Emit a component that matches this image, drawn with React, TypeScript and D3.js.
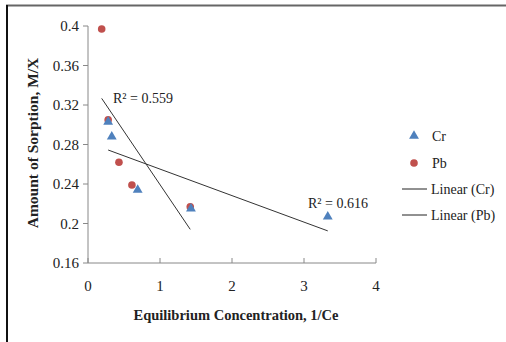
import React, { useEffect, useRef } from 'react';
import * as d3 from 'd3';

// Cr series (triangles)
const crX = [0.28, 0.33, 0.69, 1.43, 3.33];
const crY = [0.303, 0.288, 0.234, 0.215, 0.207];

// Pb series (circles)
const pbX = [0.19, 0.28, 0.43, 0.61, 1.42];
const pbY = [0.397, 0.305, 0.262, 0.239, 0.217];

const xTicks = [0, 1, 2, 3, 4];
const yTicks = [0.16, 0.2, 0.24, 0.28, 0.32, 0.36, 0.4];

const crR2 = 'R² = 0.616';
const pbR2 = 'R² = 0.559';

const FONT = '"Liberation Serif", "Times New Roman", serif';

const fit = (xs: number[], ys: number[]) => {
  const mx = d3.mean(xs)!;
  const my = d3.mean(ys)!;
  let sxy = 0;
  let sxx = 0;
  xs.forEach((x, i) => {
    sxy += (x - mx) * (ys[i] - my);
    sxx += (x - mx) * (x - mx);
  });
  const slope = sxy / sxx;
  return { slope, intercept: my - slope * mx };
};

export default function App() {
  const svgRef = useRef<SVGSVGElement>(null);

  useEffect(() => {
    if (!svgRef.current) return;
    const width = 506;
    const height = 342;

    d3.select(svgRef.current).selectAll('*').remove();
    const svg = d3.select(svgRef.current).attr('width', width).attr('height', height);

    // chart frame (top + left edges visible)
    svg.append('line').attr('x1', 6).attr('x2', 506).attr('y1', 5.5).attr('y2', 5.5)
      .attr('stroke', '#666').attr('stroke-width', 2);
    svg.append('line').attr('x1', 7).attr('x2', 7).attr('y1', 5).attr('y2', 342)
      .attr('stroke', '#111').attr('stroke-width', 2);

    const x = d3.scaleLinear().domain([0, 4]).range([88, 376]);
    const y = d3.scaleLinear().domain([0.16, 0.4]).range([263, 26]);

    // axes
    svg.append('line').attr('x1', x(0)).attr('x2', x(4)).attr('y1', y(0.16)).attr('y2', y(0.16))
      .attr('stroke', '#888');
    svg.append('line').attr('x1', x(0)).attr('x2', x(0)).attr('y1', y(0.16)).attr('y2', y(0.4))
      .attr('stroke', '#888');

    svg.selectAll('.xt').data(xTicks).enter().append('line')
      .attr('x1', d => x(d)).attr('x2', d => x(d))
      .attr('y1', y(0.16)).attr('y2', y(0.16) - 5).attr('stroke', '#888');
    svg.selectAll('.xl').data(xTicks).enter().append('text')
      .attr('x', d => x(d)).attr('y', 291).attr('text-anchor', 'middle')
      .style('font-family', FONT).style('font-size', '15px').attr('fill', '#222')
      .text(d => d);

    svg.selectAll('.yt').data(yTicks).enter().append('line')
      .attr('x1', x(0) - 5).attr('x2', x(0))
      .attr('y1', d => y(d)).attr('y2', d => y(d)).attr('stroke', '#888');
    svg.selectAll('.yl').data(yTicks).enter().append('text')
      .attr('x', 79).attr('y', d => y(d) + 5).attr('text-anchor', 'end')
      .style('font-family', FONT).style('font-size', '15px').attr('fill', '#222')
      .text(d => String(d));

    // trendlines
    const lines = [
      { xs: crX, ys: crY },
      { xs: pbX, ys: pbY },
    ];
    lines.forEach(({ xs, ys }) => {
      const { slope, intercept } = fit(xs, ys);
      const x0 = d3.min(xs)!;
      const x1 = d3.max(xs)!;
      svg.append('line')
        .attr('x1', x(x0)).attr('y1', y(intercept + slope * x0))
        .attr('x2', x(x1)).attr('y2', y(intercept + slope * x1))
        .attr('stroke', '#333').attr('stroke-width', 1);
    });

    const tri = d3.symbol().type(d3.symbolTriangle).size(42);

    // Pb points
    svg.selectAll('.pb').data(pbX).enter().append('circle')
      .attr('cx', d => x(d)).attr('cy', (d, i) => y(pbY[i])).attr('r', 3.8)
      .attr('fill', '#c0504d');
    // Cr points
    svg.selectAll('.cr').data(crX).enter().append('path')
      .attr('d', tri)
      .attr('transform', (d, i) => `translate(${x(d)},${y(crY[i])})`)
      .attr('fill', '#4f81bd');

    // R² labels
    svg.append('text').attr('x', 113).attr('y', 103)
      .style('font-family', FONT).style('font-size', '14px').attr('fill', '#222').text(pbR2);
    svg.append('text').attr('x', 308).attr('y', 208)
      .style('font-family', FONT).style('font-size', '14px').attr('fill', '#222').text(crR2);

    // legend
    const lg = svg.append('g').style('font-family', FONT).style('font-size', '14px');
    lg.append('path').attr('d', tri).attr('transform', 'translate(414,136)').attr('fill', '#4f81bd');
    lg.append('text').attr('x', 432).attr('y', 141).attr('fill', '#222').text('Cr');
    lg.append('circle').attr('cx', 414).attr('cy', 163).attr('r', 3.8).attr('fill', '#c0504d');
    lg.append('text').attr('x', 432).attr('y', 168).attr('fill', '#222').text('Pb');
    lg.append('line').attr('x1', 402).attr('x2', 427).attr('y1', 189).attr('y2', 189).attr('stroke', '#222');
    lg.append('text').attr('x', 431).attr('y', 194).attr('fill', '#222').text('Linear (Cr)');
    lg.append('line').attr('x1', 402).attr('x2', 427).attr('y1', 215).attr('y2', 215).attr('stroke', '#222');
    lg.append('text').attr('x', 431).attr('y', 220).attr('fill', '#222').text('Linear (Pb)');

    // axis titles
    svg.append('text').attr('x', 236).attr('y', 320).attr('text-anchor', 'middle')
      .style('font-family', FONT).style('font-size', '14.5px').style('font-weight', 'bold')
      .attr('fill', '#222').text('Equilibrium Concentration, 1/Ce');
    svg.append('text').attr('transform', 'translate(38,143) rotate(-90)').attr('text-anchor', 'middle')
      .style('font-family', FONT).style('font-size', '15.5px').style('font-weight', 'bold')
      .attr('fill', '#222').text('Amount of Sorption, M/X');
  }, []);

  return (
    <svg ref={svgRef} style={{ position: 'absolute', left: 0, top: 0, background: '#fff' }} />
  );
}
